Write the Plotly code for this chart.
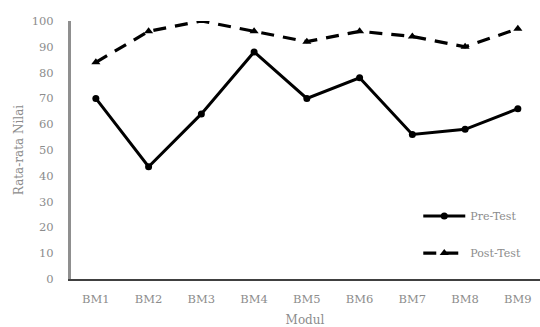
import plotly.graph_objects as go

categories = ["BM1", "BM2", "BM3", "BM4", "BM5", "BM6", "BM7", "BM8", "BM9"]
pre_test = [70, 43.5, 64, 88, 70, 78, 56, 58, 66]
post_test = [84, 96, 100, 96, 92, 96, 94, 90, 97]
y_ticks = [0, 10, 20, 30, 40, 50, 60, 70, 80, 90, 100]

font_family = "DejaVu Serif, Liberation Serif, serif"
grey = "#8c8c8c"

fig = go.Figure()
fig.add_trace(go.Scatter(
    x=categories, y=pre_test, name="Pre-Test", mode="lines+markers",
    line=dict(color="black", width=3),
    marker=dict(symbol="circle", size=7, color="black"),
    legendgroup="a",
))
fig.add_trace(go.Scatter(
    x=categories, y=post_test, name="Post-Test", mode="lines+markers",
    line=dict(color="black", width=3.2, dash="13px,9px"),
    marker=dict(symbol="triangle-up", size=8, color="black"),
    legendgroup="b",
))

fig.update_layout(
    width=540, height=327,
    margin=dict(l=70, r=0, t=21, b=48),
    paper_bgcolor="white", plot_bgcolor="white",
    font=dict(family=font_family, size=11, color=grey),
    showlegend=True,
    legend=dict(x=0.741, y=0.30, xanchor="left", yanchor="top",
                bgcolor="rgba(0,0,0,0)", tracegroupgap=18, itemwidth=42,
                font=dict(size=11, color=grey)),
    xaxis=dict(
        type="category", range=[-0.49, 8.42],
        showgrid=False, showline=True, linecolor="#404040", linewidth=1.5,
        ticks="", ticklabelstandoff=8, tickfont=dict(size=11.5),
        title=dict(text="Modul", standoff=11, font=dict(size=12, color=grey)),
    ),
    yaxis=dict(
        range=[0, 100], tickvals=y_ticks,
        showgrid=False, showline=True, linecolor="#8f8f8f", linewidth=2,
        ticks="", ticklabelstandoff=12, zeroline=False,
        tickfont=dict(size=11.5),
        title=dict(text="Rata-rata Nilai", standoff=6, font=dict(size=12, color=grey)),
    ),
)
# Left axis line drawn along the plot edge (in paper coordinates)
fig.add_shape(type="line", xref="paper", yref="paper", x0=0, x1=0, y0=0, y1=1,
              line=dict(color="#8f8f8f", width=2), layer="above")

fig.write_html(
    "out.html",
    config={"displayModeBar": False},
    post_script="document.body.style.margin='0';document.body.style.overflow='hidden';",
)
